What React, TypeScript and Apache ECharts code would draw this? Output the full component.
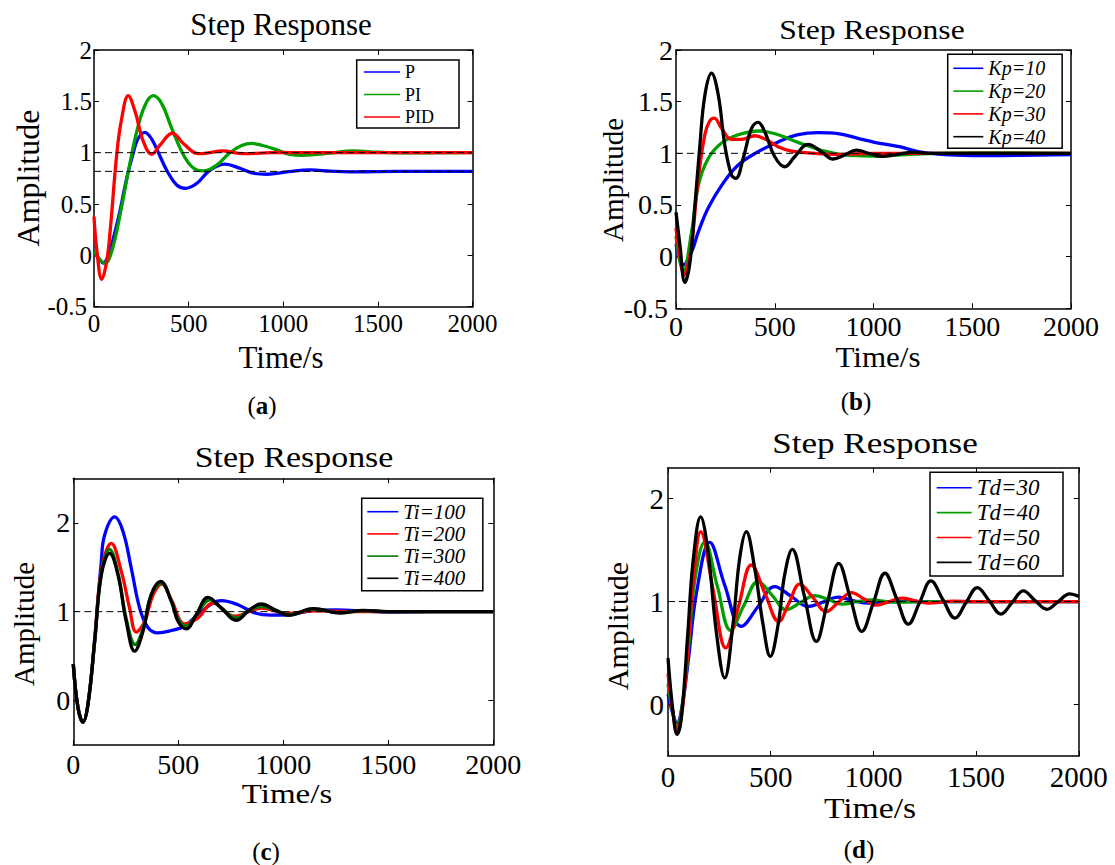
import React, { useEffect, useRef } from "react";
import * as echarts from "echarts";

const FONT = "'Liberation Serif', 'Times New Roman', serif";

// ---------- time axis ----------
const timeRange = [0, 2000];
const timeInterval = 500;

// ---------- panel (a) ----------
const aNames = ["P", "PI", "PID"];
const aP = [[0,0.03],[25,-0.03],[49,-0.075],[70,-0.03],[85,0.05],[110,0.22],[137,0.43],[160,0.64],[181,0.815],[205,0.98],[225,1.107],[245,1.17],[269,1.198],[290,1.17],[313,1.107],[350,0.96],[387,0.819],[437,0.686],[484,0.653],[542,0.70],[613,0.83],[692,0.888],[771,0.848],[840,0.80],[912,0.79],[1030,0.815],[1141,0.832],[1250,0.82],[1350,0.813],[1500,0.816],[1700,0.818],[2000,0.818]];
const aPI = [[0,0.036],[30,-0.04],[58,-0.077],[93,0.036],[137,0.39],[181,0.815],[225,1.2],[269,1.46],[313,1.555],[357,1.48],[410,1.24],[472,0.98],[525,0.85],[577,0.822],[648,0.88],[718,1.0],[780,1.07],[836,1.09],[890,1.07],[947,1.04],[1035,0.984],[1106,0.975],[1240,0.995],[1370,1.017],[1500,1.005],[1650,0.998],[2000,1.0]];
const aPID = [[0,0.377],[14,0.069],[41,-0.233],[67,-0.06],[85,0.23],[120,0.98],[146,1.33],[181,1.555],[217,1.40],[261,1.107],[305,0.984],[349,1.075],[414,1.189],[472,1.09],[551,0.99],[610,1.0],[675,1.017],[789,0.99],[975,1.003],[1200,1.0],[2000,1.0]];
const aRefLevels = [1, 0.818];
const aColors = ["#0000ff", "#00a000", "#ff0000"];

// ---------- panel (b) ----------
const bNames = ["Kp=10", "Kp=20", "Kp=30", "Kp=40"];
const bKp10 = [[0,0.12],[37,-0.08],[79,0.047],[113,0.24],[163,0.47],[231,0.69],[315,0.887],[416,1.016],[517,1.11],[618,1.18],[719,1.20],[820,1.19],[921,1.145],[1005,1.107],[1131,1.064],[1232,1.015],[1384,0.985],[1550,0.978],[1750,0.98],[2000,0.988]];
const bKp20 = [[0,0.2],[37,-0.146],[79,0.24],[113,0.69],[163,0.95],[231,1.10],[315,1.18],[424,1.216],[517,1.18],[618,1.106],[736,1.03],[854,0.984],[988,0.974],[1100,0.98],[1300,1.0],[1500,1.005],[2000,1.0]];
const bKp30 = [[0,0.28],[20,0.0],[42,-0.18],[60,-0.08],[79,0.11],[113,0.76],[146,1.18],[170,1.31],[194,1.34],[231,1.24],[281,1.135],[332,1.135],[399,1.17],[449,1.14],[517,1.064],[584,1.022],[702,1.0],[800,0.99],[1000,1.0],[2000,1.0]];
const bKp40 = [[0,0.43],[20,0.11],[45,-0.249],[71,-0.05],[96,0.5],[121,1.08],[146,1.56],[180,1.775],[214,1.565],[247,1.08],[281,0.79],[303,0.758],[340,0.95],[382,1.24],[416,1.30],[449,1.21],[500,0.967],[551,0.87],[601,0.967],[668,1.087],[736,1.016],[795,0.945],[854,0.984],[913,1.03],[980,0.997],[1040,0.97],[1120,0.99],[1200,1.01],[1300,1.0],[2000,1.0]];
const bRefLevels = [1];
const bColors = ["#0000ff", "#00a000", "#ff0000", "#000000"];

// ---------- panel (c) ----------
const cNames = ["Ti=100", "Ti=200", "Ti=300", "Ti=400"];
const cTi100 = [[0,0.41],[22,-0.076],[46,-0.244],[70,-0.04],[102,0.70],[133,1.55],[149,1.86],[197,2.065],[237,1.90],[276,1.49],[316,1.04],[356,0.82],[403,0.762],[467,0.788],[530,0.836],[610,1.003],[705,1.123],[784,1.078],[864,0.985],[943,0.96],[1020,0.965],[1150,1.015],[1250,1.02],[1400,1.005],[1500,0.995],[1700,1.0],[2000,1.0]];
const cTi200 = [[0,0.41],[22,-0.076],[46,-0.244],[70,-0.04],[102,0.68],[133,1.45],[181,1.768],[229,1.45],[268,1.04],[300,0.77],[340,0.89],[380,1.19],[422,1.31],[467,1.134],[530,0.862],[594,0.93],[665,1.097],[768,0.948],[895,1.041],[1020,0.98],[1150,1.01],[1300,1.0],[2000,1.0]];
const cTi300 = [[0,0.41],[22,-0.076],[46,-0.244],[70,-0.04],[102,0.67],[133,1.42],[173,1.70],[213,1.43],[252,0.92],[295,0.63],[332,0.81],[371,1.19],[419,1.32],[467,1.12],[499,0.92],[538,0.836],[590,0.98],[650,1.134],[705,1.04],[776,0.93],[840,1.02],[895,1.06],[959,1.02],[1027,0.965],[1142,1.03],[1274,0.988],[1381,1.012],[1500,1.0],[2000,1.0]];
const cTi400 = [[0,0.41],[22,-0.076],[46,-0.244],[70,-0.04],[102,0.67],[133,1.41],[173,1.655],[213,1.41],[252,0.89],[292,0.556],[332,0.78],[371,1.19],[416,1.34],[467,1.115],[499,0.89],[538,0.806],[586,0.966],[641,1.16],[705,1.04],[776,0.903],[840,1.022],[895,1.086],[959,1.022],[1027,0.96],[1142,1.034],[1274,0.985],[1381,1.015],[1500,1.0],[2000,1.0]];
const cRefLevels = [1];
const cTickValues = [0, 1, 2];
const cColors = ["#0000ff", "#ff0000", "#007a00", "#000000"];

// ---------- panel (d) ----------
const dNames = ["Td=30", "Td=40", "Td=50", "Td=60"];
const dTd30 = [[0,0.1],[22,-0.08],[44,-0.18],[70,0.0],[100,0.45],[140,1.1],[203,1.575],[276,1.16],[357,0.758],[438,0.95],[519,1.145],[600,1.05],[682,0.952],[755,0.995],[828,1.043],[900,1.01],[975,0.985],[1100,1.0],[2000,1.0]];
const dTd40 = [[0,0.2],[22,-0.06],[44,-0.22],[70,0.0],[100,0.55],[130,1.2],[179,1.58],[240,1.15],[305,0.72],[369,0.96],[438,1.194],[507,1.06],[576,0.92],[645,0.99],[714,1.058],[780,1.02],[850,0.975],[920,1.0],[990,1.015],[1100,0.995],[1300,1.0],[2000,1.0]];
const dTd50 = [[0,0.3],[22,-0.05],[44,-0.258],[70,-0.05],[100,0.62],[127,1.28],[159,1.678],[220,1.11],[281,0.55],[343,0.95],[406,1.355],[472,1.08],[539,0.806],[590,0.99],[641,1.17],[705,1.04],[770,0.903],[830,0.995],[893,1.087],[955,1.025],[1015,0.965],[1077,1.0],[1138,1.033],[1200,1.01],[1265,0.985],[1390,1.005],[1500,1.0],[2000,1.0]];
const dTd60 = [[0,0.45],[24,-0.065],[44,-0.29],[65,-0.13],[97,0.71],[122,1.39],[159,1.823],[195,1.48],[235,0.71],[276,0.258],[316,0.774],[349,1.42],[381,1.678],[422,1.323],[463,0.774],[498,0.468],[536,0.774],[568,1.26],[605,1.507],[663,1.06],[722,0.613],[776,0.99],[831,1.37],[887,1.04],[944,0.71],[1000,0.99],[1056,1.275],[1113,1.03],[1170,0.78],[1225,0.99],[1280,1.20],[1338,1.02],[1397,0.84],[1451,0.99],[1506,1.136],[1563,1.01],[1621,0.878],[1675,0.99],[1730,1.104],[1787,1.01],[1845,0.925],[1900,1.0],[1955,1.075],[2000,1.05]];
const dRefLevels = [1];
const dTickValues = [0, 1, 2];
const dColors = ["#0000ff", "#00a000", "#ff0000", "#000000"];

// ---------- texts ----------
const titleText = "Step Response";
const xName = "Time/s";
const yName = "Amplitude";
const captions = ["a", "b", "c", "d"];

// ---------- layout (positions / styles only) ----------
const layouts = [
  { grid: { left: 94, top: 50, width: 378.6, height: 256.7 }, yMin: -0.5, yMax: 2, yInterval: 0.5, yCustom: null as number[] | null,
    tickFs: 25, xMargin: 4, yMargin: 2, minPad: 5,
    title: { x: 281, y: 24, fs: 31, sx: 1 }, xn: { x: 281, y: 357, fs: 31, sx: 1 }, yn: { x: 28, y: 178, fs: 32 }, cap: { x: 262, y: 405 },
    legend: { left: 356.7, top: 60, fs: 18, italic: false, itemWidth: 36, gap: 4.5, padding: [3, 25, 2, 7.3] } },
  { grid: { left: 676, top: 50, width: 395, height: 258.3 }, yMin: -0.5, yMax: 2, yInterval: 0.5, yCustom: null,
    tickFs: 28, xMargin: 4, yMargin: 3, minPad: 5,
    title: { x: 872, y: 29, fs: 28, sx: 1.13 }, xn: { x: 878, y: 357, fs: 29, sx: 1.07 }, yn: { x: 613, y: 180, fs: 29 }, cap: { x: 856, y: 401 },
    legend: { left: 947.7, top: 54.3, fs: 20, italic: true, itemWidth: 30, gap: 2.8, padding: [4, 17, 1.6, 5.6] } },
  { grid: { left: 73.3, top: 478.3, width: 420, height: 266.7 }, yMin: -0.5, yMax: 2.5, yInterval: null as number | null, yCustom: cTickValues,
    tickFs: 28, xMargin: 5.5, yMargin: 3, minPad: 0,
    title: { x: 294, y: 457, fs: 30, sx: 1.13 }, xn: { x: 287, y: 794, fs: 28, sx: 1.18 }, yn: { x: 24, y: 624, fs: 29 }, cap: { x: 266, y: 851 },
    legend: { left: 361.7, top: 498.3, fs: 21, italic: true, itemWidth: 31, gap: 1.2, padding: [2.9, 17.5, 1.9, 5.6] } },
  { grid: { left: 668, top: 467.7, width: 410.8, height: 288.3 }, yMin: -0.5, yMax: 2.3, yInterval: null, yCustom: dTickValues,
    tickFs: 29, xMargin: 6, yMargin: 4, minPad: 0,
    title: { x: 875, y: 443, fs: 30, sx: 1.17 }, xn: { x: 870, y: 808, fs: 29, sx: 1.16 }, yn: { x: 617, y: 626, fs: 30 }, cap: { x: 859, y: 849 },
    legend: { left: 930, top: 472.3, fs: 23, italic: true, itemWidth: 35, gap: 1.9, padding: [3.9, 23.5, 2.1, 6.7] } },
];

const panelSeries = [
  { names: aNames, data: [aP, aPI, aPID], colors: aColors, refs: aRefLevels },
  { names: bNames, data: [bKp10, bKp20, bKp30, bKp40], colors: bColors, refs: bRefLevels },
  { names: cNames, data: [cTi100, cTi200, cTi300, cTi400], colors: cColors, refs: cRefLevels },
  { names: dNames, data: [dTd30, dTd40, dTd50, dTd60], colors: dColors, refs: dRefLevels },
];

const plainNumber = (v: number) => String(v);
const CAP_FS = 25;

function buildOption() {
  const grid: any[] = [];
  const xAxis: any[] = [];
  const yAxis: any[] = [];
  const series: any[] = [];
  const legend: any[] = [];
  const graphic: any[] = [];

  layouts.forEach((L, i) => {
    grid.push({ ...L.grid, containLabel: false });
    const axisLine = { show: true, onZero: false, lineStyle: { color: "#000", width: 1.5 } };
    const tick = { show: true, inside: true, length: 5, lineStyle: { color: "#000", width: 1 } };
    const xBase = { type: "value", gridIndex: i, min: timeRange[0], max: timeRange[1], interval: timeInterval, splitLine: { show: false }, axisLine };
    xAxis.push({ ...xBase, position: "bottom", axisTick: tick,
      axisLabel: { show: true, color: "#000", fontSize: L.tickFs, fontFamily: FONT, margin: L.xMargin, formatter: plainNumber } });
    xAxis.push({ ...xBase, position: "top", axisTick: tick, axisLabel: { show: false } });
    const yBase: any = { type: "value", gridIndex: i, min: L.yMin, max: L.yMax, splitLine: { show: false }, axisLine };
    if (L.yInterval) yBase.interval = L.yInterval;
    const yTick: any = { ...tick };
    const yLab: any = { show: true, color: "#000", fontSize: L.tickFs, fontFamily: FONT, margin: L.yMargin,
      formatter: (v: number) => (v === L.yMin && L.minPad ? `{m|${v}}` : String(v)),
      rich: { m: { fontSize: L.tickFs, fontFamily: FONT, color: "#000", padding: [0, L.minPad, 0, 0] } } };
    if (L.yCustom) { yTick.customValues = L.yCustom; yLab.customValues = L.yCustom; }
    yAxis.push({ ...yBase, position: "left", axisTick: yTick, axisLabel: yLab });
    yAxis.push({ ...yBase, position: "right", axisTick: yTick, axisLabel: { show: false } });

    const P = panelSeries[i];
    P.names.forEach((nm, k) => {
      series.push({ type: "line", name: nm, data: P.data[k], xAxisIndex: 2 * i, yAxisIndex: 2 * i,
        symbol: "none", smooth: 0.4, lineStyle: { width: 3.3, color: P.colors[k] }, itemStyle: { color: P.colors[k] },
        z: 2 + k, silent: true });
    });
    P.refs.forEach((lv, k) => {
      series.push({ type: "line", name: `ref-${i}-${k}`, data: [[timeRange[0], lv], [timeRange[1], lv]],
        xAxisIndex: 2 * i, yAxisIndex: 2 * i, symbol: "none", silent: true,
        lineStyle: { color: "#000", width: 1, type: [7, 4] }, z: 20 });
    });

    const LG = L.legend;
    legend.push({ data: P.names.map((nm) => ({ name: nm, icon: "rect" })), orient: "vertical", left: LG.left, top: LG.top, padding: LG.padding,
      itemWidth: LG.itemWidth, itemHeight: 1.6, itemGap: LG.gap, selectedMode: false,
      backgroundColor: "#fff", borderColor: "#000", borderWidth: 1.5, borderRadius: 0,
      textStyle: { fontSize: LG.fs, fontFamily: FONT, fontStyle: LG.italic ? "italic" : "normal", color: "#000", padding: 0 } });

    const txt = (x: number, y: number, text: string, fs: number, sx = 1, rot = 0) => ({
      type: "text", x, y, scaleX: sx, rotation: rot, silent: true,
      style: { text, fontSize: fs, fontFamily: FONT, fill: "#000", textAlign: "center", textVerticalAlign: "middle" } });
    graphic.push(txt(L.title.x, L.title.y, titleText, L.title.fs, L.title.sx));
    graphic.push(txt(L.xn.x, L.xn.y, xName, L.xn.fs, L.xn.sx));
    graphic.push(txt(L.yn.x, L.yn.y, yName, L.yn.fs, 1, Math.PI / 2));
    graphic.push({ type: "text", x: L.cap.x, y: L.cap.y, silent: true,
      style: { legacy: false, text: `{p|(}{b|${captions[i]}}{p|)}`, font: `${CAP_FS}px ${FONT}`, fontSize: CAP_FS, fontFamily: FONT, fill: "#000",
        align: "center", verticalAlign: "middle",
        rich: { p: { font: `${CAP_FS}px ${FONT}`, fontSize: CAP_FS, fontFamily: FONT, fill: "#000" },
                b: { font: `bold ${CAP_FS}px ${FONT}`, fontSize: CAP_FS, fontFamily: FONT, fontWeight: "bold", fill: "#000" } } } });
  });

  return { animation: false, backgroundColor: "#fff", textStyle: { fontFamily: FONT }, grid, xAxis, yAxis, series, legend, graphic };
}

export default function App() {
  const ref = useRef<HTMLDivElement>(null);
  useEffect(() => {
    if (!ref.current) return;
    const chart = echarts.init(ref.current, null, { renderer: "svg" });
    chart.setOption(buildOption() as any);
    return () => chart.dispose();
  }, []);
  return <div ref={ref} style={{ position: "fixed", left: 0, top: 0, width: 1115, height: 865, background: "#fff" }} />;
}
